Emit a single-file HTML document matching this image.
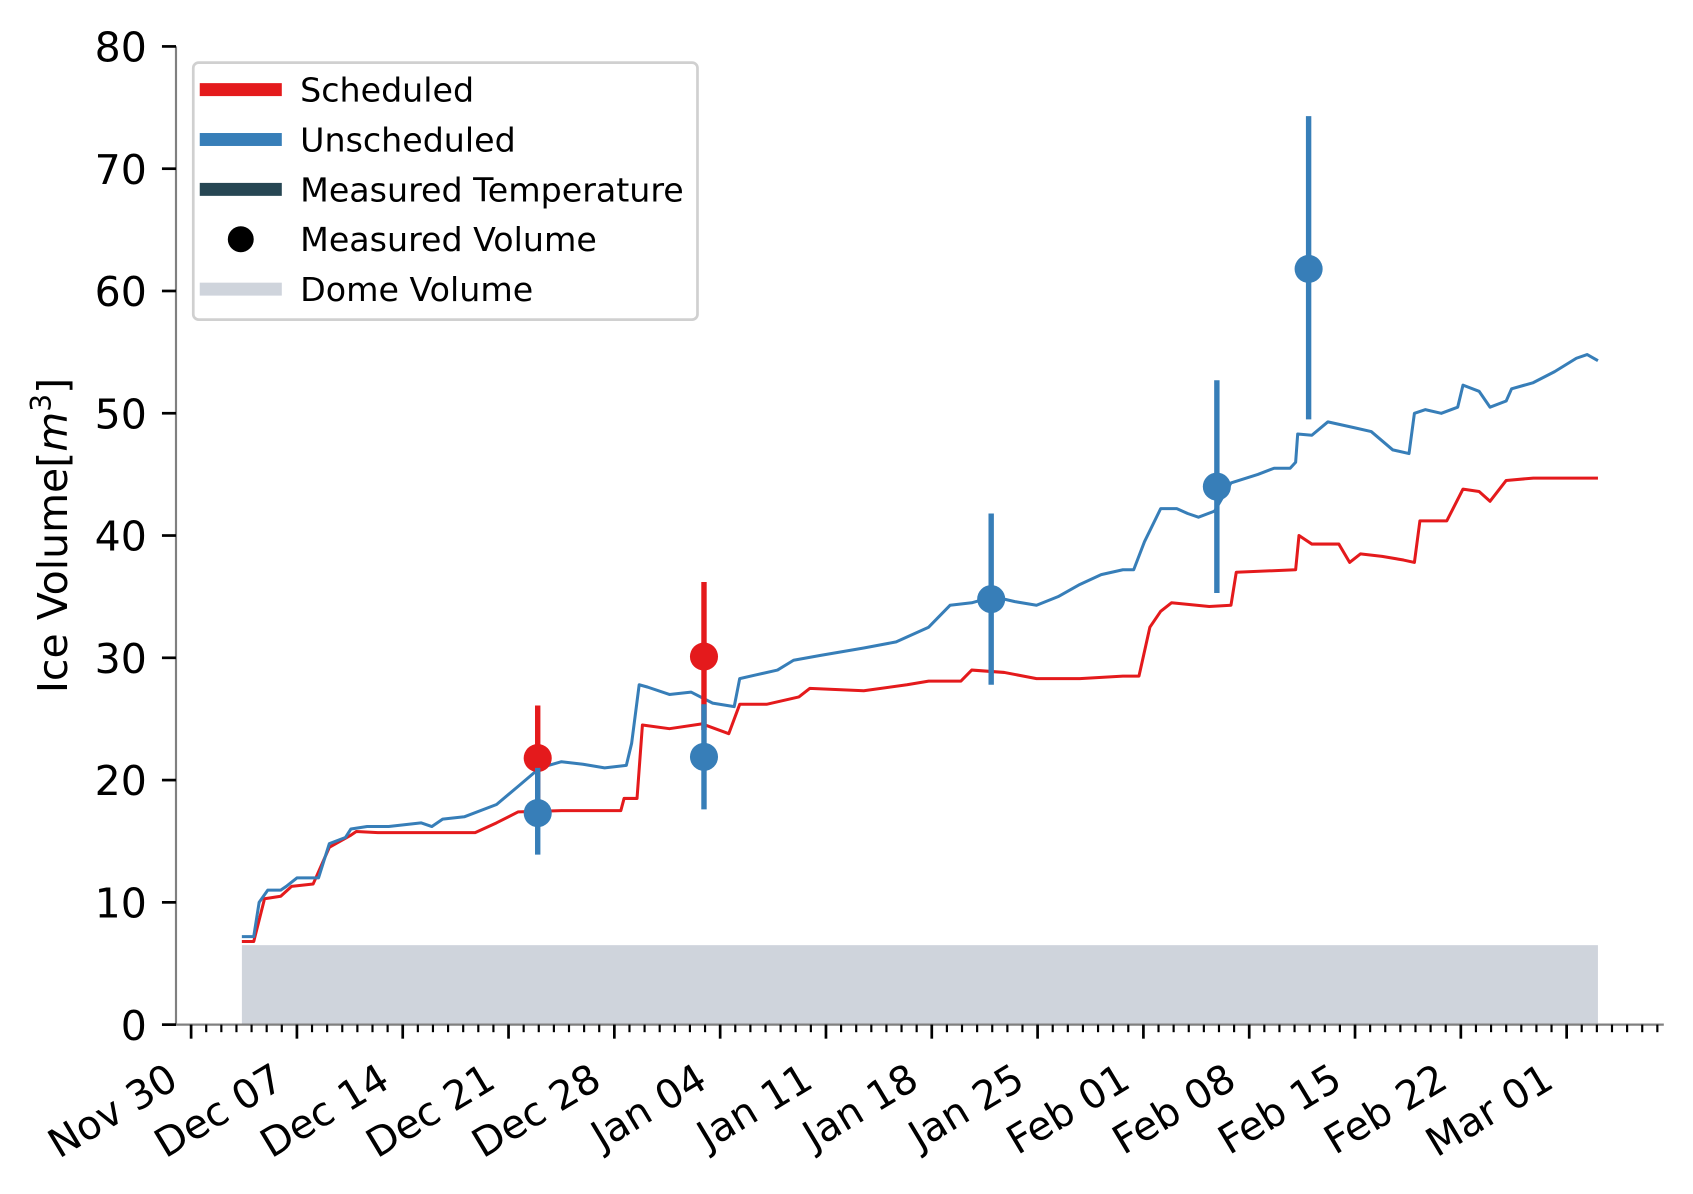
<!DOCTYPE html>
<html><head><meta charset="utf-8"><style>
html,body{margin:0;padding:0;background:#fff;}
svg{display:block;font-family:"DejaVu Sans","Liberation Sans",sans-serif;}
</style></head>
<body>
<svg width="1693" height="1194" viewBox="0 0 1693 1194" xmlns="http://www.w3.org/2000/svg"><g id="chart" transform="scale(1.0797)"></g></svg>
<script>
// ---- data (days since Nov 30, value m^3) ----
const schedDays = [3.36,4.14,4.86,5.93,6.64,8.07,9.14,10.57,10.93,12.36,18.79,20.21,21.64,24.5,27.36,28.43,28.64,29.5,29.86,31.64,33.79,35.57,36.29,38.07,40.21,40.93,44.5,47.36,48.79,50.93,51.64,53.79,55.93,58.79,61.64,62.71,63.43,64.14,64.86,67.36,68.79,69.14,73.07,73.29,74.14,75.93,76.64,77.36,78.79,80.21,80.93,81.29,83.07,84.14,85.21,85.93,87,88.79,93.07];
const schedVals = [6.8,6.8,10.3,10.5,11.3,11.5,14.5,15.5,15.8,15.7,15.7,16.5,17.4,17.5,17.5,17.5,18.5,18.5,24.5,24.2,24.6,23.8,26.2,26.2,26.8,27.5,27.3,27.8,28.1,28.1,29,28.8,28.3,28.3,28.5,28.5,32.5,33.8,34.5,34.2,34.3,37,37.2,40,39.3,39.3,37.8,38.5,38.3,38,37.8,41.2,41.2,43.8,43.6,42.8,44.5,44.7,44.7];
const unschDays = [3.36,4.14,4.5,5.07,5.93,6.29,7,8.43,9.14,10.21,10.57,11.64,13.07,15.21,15.93,16.64,18.07,20.21,21.64,23.07,24.5,25.93,27.36,28.79,29.14,29.64,30.21,31.64,33.07,34.5,35.93,36.29,37.36,38.79,39.86,41.64,44.5,46.64,48.79,50.21,51.64,53.07,54.5,55.93,57.36,58.79,60.21,61.64,62.36,63.07,64.14,65.21,65.93,66.64,67.71,68.79,70.57,71.64,72.71,73.07,73.21,74.14,75.21,76.29,77,78.07,79.5,80.57,80.93,81.64,82.71,83.79,84.14,85.21,85.93,87,87.36,88.79,90.21,91.64,92.36,93.07];
const unschVals = [7.2,7.2,10,11,11,11.3,12,12,14.8,15.3,16,16.2,16.2,16.5,16.2,16.8,17,18,19.5,21,21.5,21.3,21,21.2,23,27.8,27.6,27,27.2,26.3,26,28.3,28.6,29,29.8,30.2,30.8,31.3,32.5,34.3,34.5,35,34.6,34.3,35,36,36.8,37.2,37.2,39.5,42.2,42.2,41.8,41.5,42,44.3,45,45.5,45.5,46,48.3,48.2,49.3,49,48.8,48.5,47,46.7,50,50.3,50,50.5,52.3,51.8,50.5,51,52,52.5,53.4,54.5,54.8,54.3];
const measSchedDays = [22.93,33.93];
const measSchedVals = [21.8,30.1];
const measSchedLo = [17.5,24.1];
const measSchedHi = [26.1,36.2];
const measUnschDays = [22.93,33.93,52.93,67.86,73.93];
const measUnschVals = [17.3,21.9,34.8,44.0,61.8];
const measUnschLo = [13.9,17.6,27.8,35.3,49.5];
const measUnschHi = [21.0,26.2,41.8,52.7,74.3];
const domeStart = 3.36, domeEnd = 93.07, domeVal = 6.5;
const yTicks = [0,10,20,30,40,50,60,70,80];
const xTickLabels = ["Nov 30","Dec 07","Dec 14","Dec 21","Dec 28","Jan 04","Jan 11","Jan 18","Jan 25","Feb 01","Feb 08","Feb 15","Feb 22","Mar 01"];

// ---- axes ----
const X0 = 177, PXD = 14, Y0 = 949, PXV = (949-43)/80;
const xs = d => X0 + d*PXD;
const ys = v => Y0 - v*PXV;
const svg = document.getElementById('chart');
const NS = 'http://www.w3.org/2000/svg';
function mk(tag, attrs, parent){const e=document.createElementNS(NS,tag);for(const k in attrs)e.setAttribute(k,attrs[k]);(parent||svg).appendChild(e);return e;}

let dome = mk('rect',{x:xs(domeStart),y:ys(domeVal),width:xs(domeEnd)-xs(domeStart),height:ys(0)-ys(domeVal),fill:'#cfd4dc'});



function line(days, vals, color, name){
  const pts = days.map((d,i)=>xs(d).toFixed(1)+','+ys(vals[i]).toFixed(1)).join(' ');
  const p = mk('polyline',{points:pts,fill:'none',stroke:color,'stroke-width':2.8,'stroke-linejoin':'round'});
  
  
}
line(schedDays, schedVals, '#e41a1c', 'scheduled-line');
line(unschDays, unschVals, '#377eb8', 'unscheduled-line');

function meas(days, vals, lo, hi, color, name){
  days.forEach((d,i)=>{
    const g = mk('g',{});
    
    
    mk('line',{x1:xs(d),x2:xs(d),y1:ys(lo[i]),y2:ys(hi[i]),stroke:color,'stroke-width':5},g);
    mk('circle',{cx:xs(d),cy:ys(vals[i]),r:13,fill:color},g);
  });
}
meas(measSchedDays, measSchedVals, measSchedLo, measSchedHi, '#e41a1c', 'measured-scheduled');
meas(measUnschDays, measUnschVals, measUnschLo, measUnschHi, '#377eb8', 'measured-unscheduled');

let sp = mk('line',{x1:163,x2:163,y1:43,y2:949,stroke:'#808080','stroke-width':2});


sp = mk('line',{x1:163,x2:1541,y1:949,y2:949,stroke:'#808080','stroke-width':2});



yTicks.forEach(v=>{
  mk('line',{x1:150,x2:163,y1:ys(v),y2:ys(v),stroke:'#000','stroke-width':2.5});
  const t = mk('text',{x:136,y:ys(v)+14,'text-anchor':'end','font-size':38,fill:'#000'});
  t.textContent = v;
  
  
});
for(let d=0; d<=97; d++){
  const x = xs(d);
  if(x>1541) break;
  const major = d%7===0 && d/7 < xTickLabels.length;
  mk('line',{x1:x,x2:x,y1:949,y2:major?962:956,stroke:'#000','stroke-width':major?2.5:2});
}
xTickLabels.forEach((lab,i)=>{
  const x = xs(i*7) - 10, y = 1006;
  const t = mk('text',{x:x,y:y,'text-anchor':'end','font-size':37,fill:'#000',transform:`rotate(-31 ${x} ${y})`});
  t.textContent = lab;
  
  
});
const yl = mk('text',{x:62,y:496,'text-anchor':'middle','font-size':38,fill:'#000',transform:'rotate(-90 62 496)'});
yl.innerHTML = 'Ice Volume[<tspan font-style="italic">m</tspan><tspan baseline-shift="super" font-size="26">3</tspan>]';



const lg = mk('g',{});


mk('rect',{x:179,y:58,width:467,height:238,rx:5,fill:'#fff','fill-opacity':0.85,stroke:'#d0d0d0','stroke-width':2.5},lg);
const entries = [['Scheduled','#e41a1c','line'],['Unscheduled','#377eb8','line'],['Measured Temperature','#264653','line'],['Measured Volume','#000','dot'],['Dome Volume','#cfd4dc','line']];
entries.forEach((e,i)=>{
  const y = 83 + i*46.2;
  const g = mk('g',{},lg);
  
  
  if(e[2]==='line') mk('rect',{x:185,y:y-6,width:76,height:12,fill:e[1]},g);
  else mk('circle',{cx:223,cy:y,r:12,fill:e[1]},g);
  const t = mk('text',{x:278,y:y+11,'font-size':30.8,fill:'#000'},g);
  t.textContent = e[0];
});
</script>
</body></html>
